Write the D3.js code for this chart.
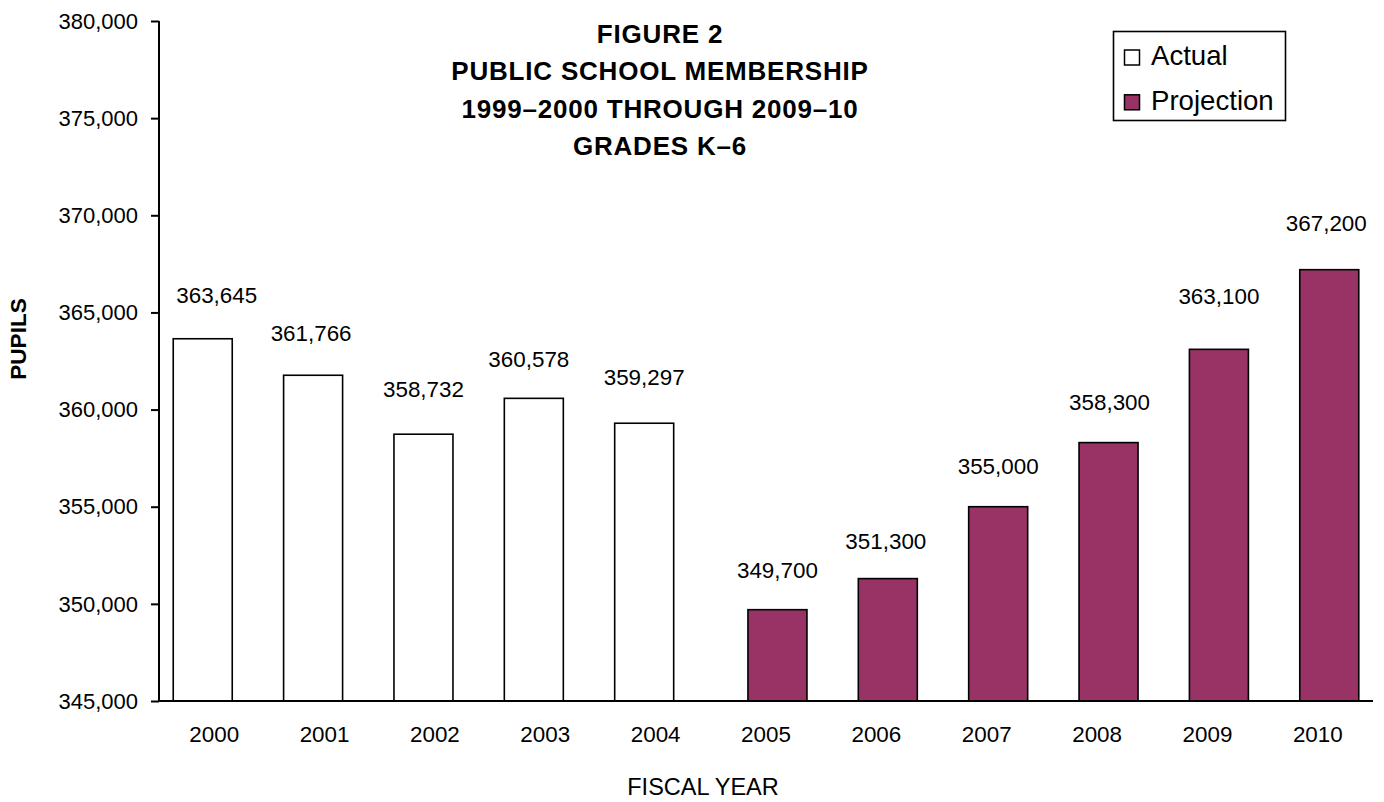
<!DOCTYPE html>
<html>
<head>
<meta charset="utf-8">
<script src="https://cdn.jsdelivr.net/npm/d3@7/dist/d3.min.js"></script>
<style>
  html, body { margin: 0; padding: 0; background: #fff; }
  svg { display: block; font-family: "Liberation Sans", Arial, sans-serif; }
</style>
</head>
<body>
<svg id="chart" width="1384" height="802"></svg>
<script>
// Public school membership, grades K-6, by fiscal year
const years = ["2000", "2001", "2002", "2003", "2004", "2005", "2006", "2007", "2008", "2009", "2010"];
const actual = [363645, 361766, 358732, 360578, 359297, null, null, null, null, null, null];
const projection = [null, null, null, null, null, 349700, 351300, 355000, 358300, 363100, 367200];
const seriesNames = ["Actual", "Projection"];
const yTicks = [345000, 350000, 355000, 360000, 365000, 370000, 375000, 380000];
const titleLines = ["FIGURE 2", "PUBLIC SCHOOL MEMBERSHIP", "1999\u20132000 THROUGH 2009\u201310", "GRADES K\u20136"];
const yAxisTitle = "PUPILS";
const xAxisTitle = "FISCAL YEAR";

// ---- layout ----
const plot = { left: 159, right: 1373, top: 21, bottom: 701 };
const barWidth = 59;
const seriesOffset = 11.45;        // clustered series overlap heavily
const colors = { Actual: "#ffffff", Projection: "#993366" };
const font = "'Liberation Sans', Arial, sans-serif";

// hand-placed data label offsets: [dx, gap above bar top]
const labelPlacement = [[14, 36], [-2, 34], [0, 37.5], [-5, 31], [0, 38], [0, 31.7],
                        [-2, 29.7], [0, 33], [1, 32.6], [0, 45], [-3, 39]];

const svg = d3.select("#chart");

const x = d3.scaleBand().domain(years).range([plot.left, plot.right]).padding(0);
const y = d3.scaleLinear().domain([yTicks[0], yTicks[yTicks.length - 1]]).range([plot.bottom, plot.top]);
const sub = d3.scalePoint().domain(seriesNames).range([-seriesOffset, seriesOffset]);

// bar records
const bars = [];
years.forEach((yr, i) => {
  if (actual[i] != null) bars.push({ year: yr, i, series: "Actual", value: actual[i] });
  if (projection[i] != null) bars.push({ year: yr, i, series: "Projection", value: projection[i] });
});
const cx = d => x(d.year) + x.bandwidth() / 2 + sub(d.series);

// bars
svg.append("g").selectAll("rect").data(bars).join("rect")
  .attr("x", d => cx(d) - barWidth / 2)
  .attr("y", d => y(d.value))
  .attr("width", barWidth)
  .attr("height", d => y(yTicks[0]) - y(d.value))
  .attr("fill", d => colors[d.series])
  .attr("stroke", "#000")
  .attr("stroke-width", 1.6);

// data labels
svg.append("g").selectAll("text").data(bars).join("text")
  .attr("x", d => cx(d) + labelPlacement[d.i][0])
  .attr("y", d => y(d.value) - labelPlacement[d.i][1])
  .attr("text-anchor", "middle")
  .attr("font-family", font)
  .attr("font-size", 22.4)
  .attr("fill", "#000")
  .text(d => d3.format(",")(d.value));

// y axis
const yAxis = d3.axisLeft(y).tickValues(yTicks).tickFormat(d3.format(",")).tickSize(8).tickPadding(13);
const gy = svg.append("g").attr("transform", `translate(${plot.left},0)`).call(yAxis);
gy.select(".domain").attr("stroke", "#000").attr("stroke-width", 2).attr("d", `M0,${plot.top}V${plot.bottom}`);
gy.selectAll(".tick line").attr("stroke", "#000").attr("stroke-width", 2);
gy.selectAll(".tick text").attr("font-family", font).attr("font-size", 22).attr("fill", "#000").attr("dy", "0.33em");

// x axis
const xAxis = d3.axisBottom(x).tickSize(0).tickPadding(25);
const gx = svg.append("g").attr("transform", `translate(0,${plot.bottom})`).call(xAxis);
gx.select(".domain").attr("stroke", "#000").attr("stroke-width", 2).attr("d", `M${plot.left},0H${plot.right}`);
gx.selectAll(".tick text").attr("font-family", font).attr("font-size", 22.4).attr("fill", "#000").attr("dy", "0.71em");

// axis titles
svg.append("text")
  .attr("transform", "translate(26,339) rotate(-90)")
  .attr("text-anchor", "middle")
  .attr("font-family", font).attr("font-size", 22.6).attr("font-weight", "bold")
  .text(yAxisTitle);

svg.append("text")
  .attr("x", 703).attr("y", 795)
  .attr("text-anchor", "middle")
  .attr("font-family", font).attr("font-size", 23.5)
  .text(xAxisTitle);

// title
svg.append("g").selectAll("text").data(titleLines).join("text")
  .attr("x", 660)
  .attr("y", (d, i) => 43 + i * 37.3)
  .attr("text-anchor", "middle")
  .attr("font-family", font).attr("font-size", 26).attr("font-weight", "bold")
  .attr("letter-spacing", "0.8px")
  .text(d => d);

// legend
const legend = svg.append("g");
legend.append("rect")
  .attr("x", 1113.5).attr("y", 31.5).attr("width", 172).attr("height", 89)
  .attr("fill", "#fff").attr("stroke", "#000").attr("stroke-width", 1.6);
const items = legend.selectAll("g.item").data(seriesNames).join("g")
  .attr("class", "item")
  .attr("transform", (d, i) => `translate(0,${i * 44.8})`);
items.append("rect")
  .attr("x", 1124.5).attr("y", 50).attr("width", 15).attr("height", 15)
  .attr("fill", d => colors[d]).attr("stroke", "#000").attr("stroke-width", 1.5);
items.append("text")
  .attr("x", 1151).attr("y", 65.2)
  .attr("font-family", font).attr("font-size", 27.6)
  .text(d => d);
</script>
</body>
</html>
